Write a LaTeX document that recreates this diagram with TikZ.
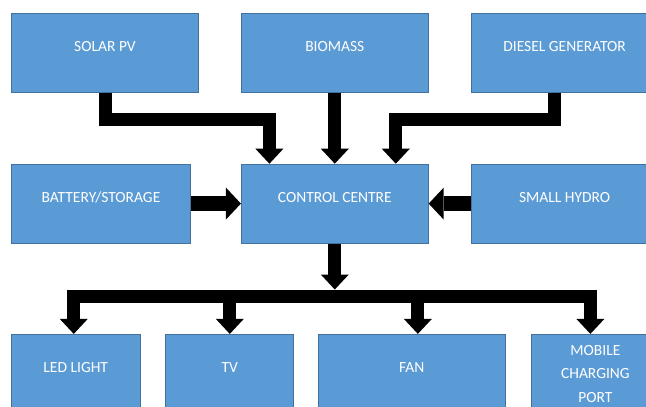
\documentclass[tikz,border=0pt]{standalone}
\usepackage{fontspec}
\setmainfont{Carlito}
\usetikzlibrary{positioning, arrows.meta}
\definecolor{boxblue}{HTML}{5B9BD5}
\definecolor{boxline}{HTML}{41719C}
\tikzstyle{block} = [rectangle, minimum width=187pt, minimum height=79pt, inner sep=0pt, text centered, draw=boxline, line width=0.8pt, fill=boxblue, text=white, font=\fontsize{15.5}{23.5}\selectfont, text height=10pt, text depth=12pt]
\tikzstyle{smallblock} = [block, minimum width=128.5pt]
\tikzstyle{arrow} = [line width=13pt, -{Triangle[length=15pt, width=28pt, line width=0pt]}]
\tikzstyle{sidearrow} = [line width=15pt, -{Triangle[length=15pt, width=32pt, line width=0pt]}]

\begin{document}
\begin{tikzpicture}[node distance=42pt]
	\useasboundingbox (0,0) rectangle (646pt,-407pt);
	\clip (0,0) rectangle (646pt,-407pt);
	\node (solar) [block] at (105pt,-52.8pt) {SOLAR PV};
	\node (biomass) [block, right=of solar] {BIOMASS};
	\node (diesel) [block, right=of biomass] {DIESEL GENERATOR};
	\node (control) [block, below=71pt of biomass] {CONTROL CENTRE};
	\node (battery) [block, minimum width=179pt, left=50pt of control] {BATTERY/STORAGE};
	\node (hydro) [block, right=of control] {SMALL HYDRO};
	\node (led) [smallblock, below=90.4pt of battery.south west, anchor=north west] {LED LIGHT};
	\node (tv) [smallblock, minimum width=128pt, right=25pt of led] {TV};
	\node (fan) [smallblock, minimum width=186.5pt, right=24pt of tv] {FAN};
	\node (mobile) [smallblock, minimum width=129pt, right=25pt of fan, text height=, text depth=, align=center] {MOBILE\\CHARGING\\PORT};
	\coordinate (bus) at ([yshift=-53pt]control.south);

	\draw [arrow] (solar.south) -- ++(0,-27pt) -| ([xshift=-65.4pt]control.north);
	\draw [arrow] (biomass) -- (control);
	\draw [arrow] ([xshift=-10pt]diesel.south) -- ++(0,-27pt) -| ([xshift=61pt]control.north);
	\draw [sidearrow] (battery.east) -- (battery.east -| control.west);
	\draw [sidearrow] (hydro.west) -- (hydro.west -| control.east);
	\draw [arrow] (control.south) -- ([yshift=7pt]bus);
	\draw [arrow] (bus) -| ([xshift=-2pt]led.north);
	\draw [arrow] (bus) -| ([xshift=-5pt]mobile.north);
	\draw [arrow] (bus -| tv.north) -- (tv.north);
	\draw [arrow] ([xshift=6pt]bus -| fan.north) -- ([xshift=6pt]fan.north);
\end{tikzpicture}
\end{document}
